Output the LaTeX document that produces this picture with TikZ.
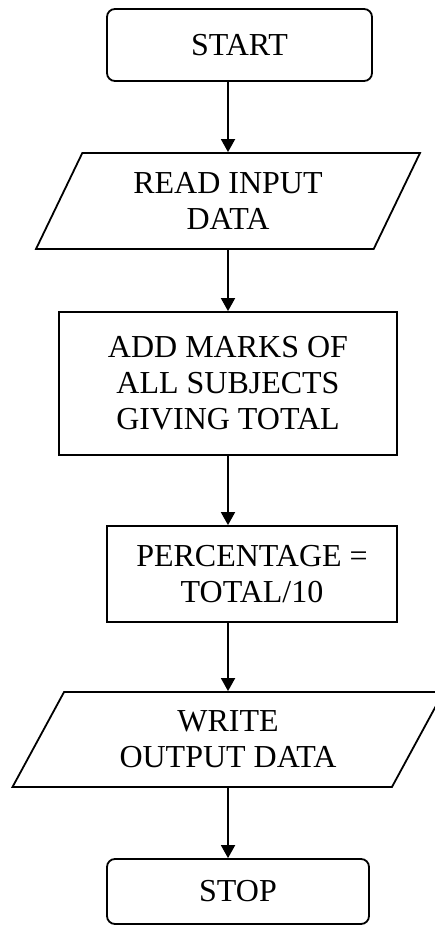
\documentclass[tikz,border=0pt]{standalone}
\usepackage{fontspec}
\setmainfont{Liberation Serif}
\usepackage{tikz}
\usetikzlibrary{arrows.meta,positioning,shapes}

\begin{document}
\begin{tikzpicture}[x=0.5pt,y=-0.5pt]
\tikzstyle{every node}=[font=\fontsize{16}{18}\selectfont,align=center,line width=0.9pt]
\tikzstyle{terminal}=[draw=black,rectangle,rounded corners=4pt]
\tikzstyle{process}=[draw=black,rectangle]
\tikzstyle{io}=[draw=black,trapezium,trapezium stretches body,inner sep=0pt]
\tikzstyle{arrow}=[line width=0.9pt,-{Triangle[length=6.5pt,width=7pt]}]
\useasboundingbox (0,0) rectangle (434,926);
\node [terminal,minimum width=132.5pt,minimum height=36pt] at (239.5,45) (start) {START};
\node [io,trapezium left angle=51,trapezium right angle=129,minimum width=192pt,minimum height=48pt] at (228,201) (read) {READ INPUT\\DATA};
\node [process,minimum width=169pt,minimum height=71.5pt] at (228,383.5) (add) {ADD MARKS OF\\ALL SUBJECTS\\GIVING TOTAL};
\node [process,minimum width=145pt,minimum height=48pt] at (252,574) (perc) {PERCENTAGE =\\ TOTAL/10};
\node [io,trapezium left angle=48,trapezium right angle=132,minimum width=215.5pt,minimum height=47.5pt] at (228,739.5) (write) {WRITE\\OUTPUT DATA};
\node [terminal,minimum width=131pt,minimum height=32.5pt] at (238,891.5) (stop) {STOP};
\draw [arrow] (start.south -| read.north) -- (read.north);
\draw [arrow] (read.south) -- (add.north);
\draw [arrow] (add.south) -- (perc.north -| add.south);
\draw [arrow] (perc.south -| write.north) -- (write.north);
\draw [arrow] (write.south) -- (stop.north -| write.south);
\end{tikzpicture}
\end{document}
